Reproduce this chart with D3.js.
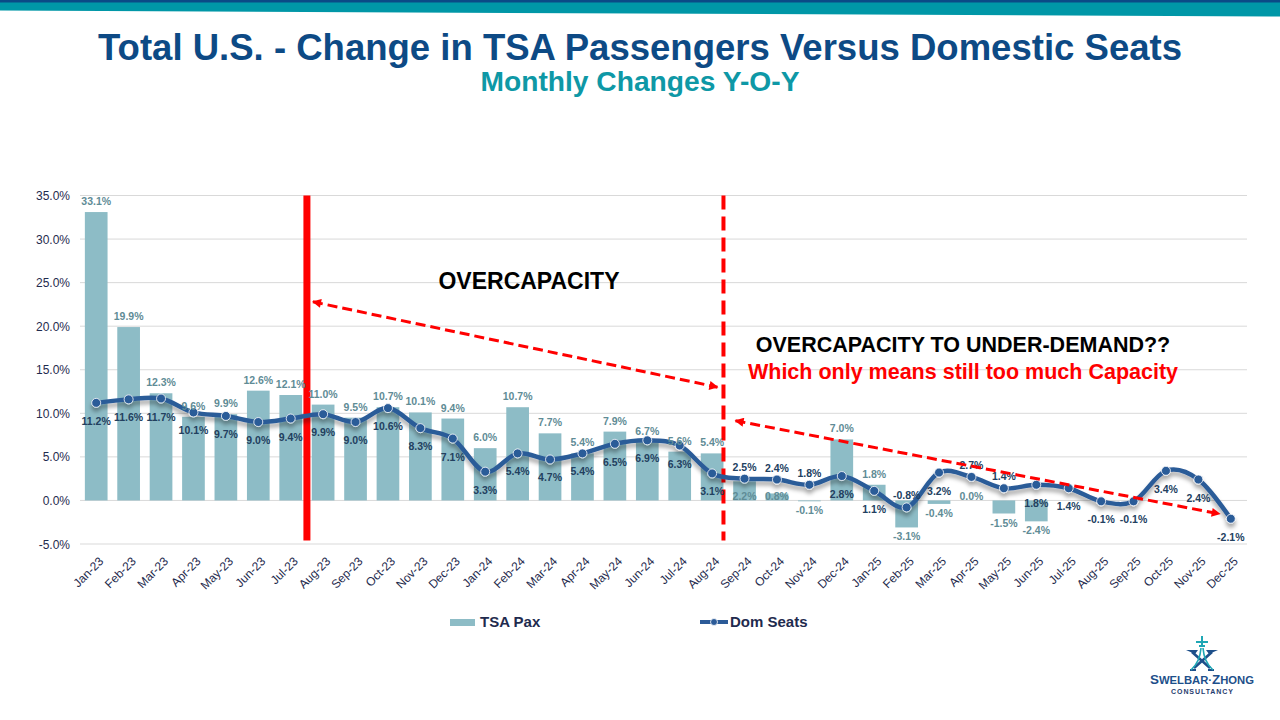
<!DOCTYPE html>
<html>
<head>
<meta charset="utf-8">
<script src="https://cdn.jsdelivr.net/npm/d3@7"></script>
<style>
  body { margin: 0; background: #fff; }
  svg { display: block; font-family: "Liberation Sans", Arial, sans-serif; }
</style>
</head>
<body>
<div id="chart"></div>
<script>
const width = 1280;
const height = 720;

// data
const months = ["Jan-23", "Feb-23", "Mar-23", "Apr-23", "May-23", "Jun-23", "Jul-23", "Aug-23", "Sep-23", "Oct-23", "Nov-23", "Dec-23",
  "Jan-24", "Feb-24", "Mar-24", "Apr-24", "May-24", "Jun-24", "Jul-24", "Aug-24", "Sep-24", "Oct-24", "Nov-24", "Dec-24",
  "Jan-25", "Feb-25", "Mar-25", "Apr-25", "May-25", "Jun-25", "Jul-25", "Aug-25", "Sep-25", "Oct-25", "Nov-25", "Dec-25"];
const tsaPax = [33.1, 19.9, 12.3, 9.6, 9.9, 12.6, 12.1, 11.0, 9.5, 10.7, 10.1, 9.4,
  6.0, 10.7, 7.7, 5.4, 7.9, 6.7, 5.6, 5.4, 2.2, 0.8, -0.1, 7.0,
  1.8, -3.1, -0.4, 0.0, -1.5, -2.4, null, null, null, null, null, null];
const domSeats = [11.2, 11.6, 11.7, 10.1, 9.7, 9.0, 9.4, 9.9, 9.0, 10.6, 8.3, 7.1,
  3.3, 5.4, 4.7, 5.4, 6.5, 6.9, 6.3, 3.1, 2.5, 2.4, 1.8, 2.8,
  1.1, -0.8, 3.2, 2.7, 1.4, 1.8, 1.4, -0.1, -0.1, 3.4, 2.4, -2.1];
const yTicks = [-5, 0, 5, 10, 15, 20, 25, 30, 35];

// label tweaks used in the reference
const seatLabelsAbove = ["Sep-24", "Oct-24", "Nov-24", "Feb-25", "Apr-25", "May-25"];
const paxLabelsLow = ["Sep-24", "Oct-24", "Apr-25"];

const barColor = "#8dbcc6";
const lineColor = "#2c5b98";
const red = "#ff0000";
const navy = "#1f2b4e";

// excel style: plain hyphen for negatives
const pct = v => d3.format(".1f")(v).replace("\u2212", "-") + "%";

const svg = d3.select("#chart")
  .append("svg")
  .attr("width", width)
  .attr("height", height);

const defs = svg.append("defs");
const shadow = defs.append("filter")
  .attr("id", "shadow")
  .attr("x", "-5%").attr("y", "-30%")
  .attr("width", "110%").attr("height", "160%");
shadow.append("feDropShadow")
  .attr("dx", 0).attr("dy", 4)
  .attr("stdDeviation", 2)
  .attr("flood-color", "#000")
  .attr("flood-opacity", 0.35);

defs.append("marker")
  .attr("id", "arrow")
  .attr("viewBox", "0 0 10 10")
  .attr("refX", 9).attr("refY", 5)
  .attr("markerWidth", 3.4).attr("markerHeight", 3)
  .attr("markerUnits", "strokeWidth")
  .attr("orient", "auto-start-reverse")
  .append("path")
  .attr("d", "M0,0 L10,5 L0,10 z")
  .attr("fill", red);

// header band
svg.append("rect").attr("x", 0).attr("y", 0).attr("width", width).attr("height", 3).attr("fill", "#0b4a86");
svg.append("path")
  .attr("d", `M0,2.5 L${width},2.5 L${width},16.5 L0,10.5 Z`)
  .attr("fill", "#0097a7");

svg.append("text")
  .attr("x", width / 2).attr("y", 60)
  .attr("text-anchor", "middle")
  .attr("font-size", 36).attr("font-weight", "bold")
  .attr("fill", "#0d4a85")
  .attr("textLength", 1084).attr("lengthAdjust", "spacingAndGlyphs")
  .text("Total U.S. - Change in TSA Passengers Versus Domestic Seats");

svg.append("text")
  .attr("x", width / 2).attr("y", 91)
  .attr("text-anchor", "middle")
  .attr("font-size", 28).attr("font-weight", "bold")
  .attr("fill", "#0e98a6")
  .attr("textLength", 319).attr("lengthAdjust", "spacingAndGlyphs")
  .text("Monthly Changes Y-O-Y");

// scales
const x = d3.scaleBand()
  .domain(months)
  .range([80, 1247])
  .paddingInner(0.3)
  .paddingOuter(0.15);

const y = d3.scaleLinear()
  .domain([-5, 35])
  .range([544, 195.5]);

const cx = d => x(d) + x.bandwidth() / 2;

// grid + y labels
svg.append("g")
  .selectAll("line")
  .data(yTicks)
  .join("line")
  .attr("x1", 80).attr("x2", 1247)
  .attr("y1", d => y(d)).attr("y2", d => y(d))
  .attr("stroke", "#d9d9d9")
  .attr("stroke-width", 1);

svg.append("g")
  .selectAll("text")
  .data(yTicks)
  .join("text")
  .attr("x", 70)
  .attr("y", d => y(d) + 4.5)
  .attr("text-anchor", "end")
  .attr("font-size", 12)
  .attr("fill", navy)
  .text(d => pct(d));

// x labels
svg.append("g")
  .selectAll("text")
  .data(months)
  .join("text")
  .attr("transform", d => `translate(${cx(d) + 8},${562}) rotate(-45)`)
  .attr("text-anchor", "end")
  .attr("font-size", 12)
  .attr("fill", navy)
  .text(d => d);

// bars
const paxData = months.map((m, i) => ({ month: m, value: tsaPax[i] })).filter(d => d.value !== null);

svg.append("g")
  .selectAll("rect")
  .data(paxData)
  .join("rect")
  .attr("x", d => x(d.month))
  .attr("width", x.bandwidth())
  .attr("y", d => y(Math.max(0, d.value)))
  .attr("height", d => Math.abs(y(d.value) - y(0)))
  .attr("fill", barColor);

// vertical markers
const xSolid = x("Aug-23") - x.step() * 0.15;
const xDashed = x("Sep-24") - x.step() * 0.3;

svg.append("line")
  .attr("x1", xSolid).attr("x2", xSolid)
  .attr("y1", y(35)).attr("y2", y(-4.6))
  .attr("stroke", red).attr("stroke-width", 7);

svg.append("line")
  .attr("x1", xDashed).attr("x2", xDashed)
  .attr("y1", y(35)).attr("y2", y(-4.6))
  .attr("stroke", red).attr("stroke-width", 4)
  .attr("stroke-dasharray", "14,7");

// seats line
const seatData = months.map((m, i) => ({ month: m, value: domSeats[i] }));

const line = d3.line()
  .x(d => cx(d.month))
  .y(d => y(d.value))
  .curve(d3.curveCardinal.tension(0));

const lineG = svg.append("g").attr("filter", "url(#shadow)");
lineG.append("path")
  .datum(seatData)
  .attr("d", line)
  .attr("fill", "none")
  .attr("stroke", lineColor)
  .attr("stroke-width", 4.5);

lineG.selectAll("circle")
  .data(seatData)
  .join("circle")
  .attr("cx", d => cx(d.month))
  .attr("cy", d => y(d.value))
  .attr("r", 4.5)
  .attr("fill", lineColor)
  .attr("stroke", "#fff")
  .attr("stroke-width", 0.8);

// bar labels
svg.append("g")
  .selectAll("text")
  .data(paxData)
  .join("text")
  .attr("x", d => cx(d.month))
  .attr("y", d => {
    if (paxLabelsLow.includes(d.month)) return y(0);
    return d.value >= 0 ? y(d.value) - 7 : y(d.value) + 13;
  })
  .attr("text-anchor", "middle")
  .attr("font-size", 10.5)
  .attr("font-weight", "bold")
  .attr("fill", "#5f8c96")
  .text(d => pct(d.value));

// line labels
svg.append("g")
  .selectAll("text")
  .data(seatData)
  .join("text")
  .attr("x", d => cx(d.month))
  .attr("y", d => seatLabelsAbove.includes(d.month) ? y(d.value) - 8 : y(d.value) + 22)
  .attr("text-anchor", "middle")
  .attr("font-size", 10.5)
  .attr("font-weight", "bold")
  .attr("fill", "#22405f")
  .text(d => pct(d.value));

// annotation arrows (anchored in data units)
svg.append("line")
  .attr("x1", xSolid + 6).attr("y1", y(22.8))
  .attr("x2", xDashed - 6).attr("y2", y(13.0))
  .attr("stroke", red).attr("stroke-width", 3)
  .attr("stroke-dasharray", "10,5")
  .attr("marker-start", "url(#arrow)")
  .attr("marker-end", "url(#arrow)");

svg.append("line")
  .attr("x1", xDashed + 12).attr("y1", y(9.15))
  .attr("x2", cx("Dec-25") - 11).attr("y2", y(-1.55))
  .attr("stroke", red).attr("stroke-width", 3)
  .attr("stroke-dasharray", "10,5")
  .attr("marker-start", "url(#arrow)")
  .attr("marker-end", "url(#arrow)");

svg.append("text")
  .attr("x", 529).attr("y", 289)
  .attr("text-anchor", "middle")
  .attr("font-size", 23).attr("font-weight", "bold")
  .attr("fill", "#000")
  .text("OVERCAPACITY");

svg.append("text")
  .attr("x", 963).attr("y", 352)
  .attr("text-anchor", "middle")
  .attr("font-size", 21.5).attr("font-weight", "bold")
  .attr("fill", "#000")
  .text("OVERCAPACITY TO UNDER-DEMAND??");

svg.append("text")
  .attr("x", 963).attr("y", 379)
  .attr("text-anchor", "middle")
  .attr("font-size", 21.5).attr("font-weight", "bold")
  .attr("fill", red)
  .text("Which only means still too much Capacity");

// legend
const legend = svg.append("g");
legend.append("rect")
  .attr("x", 450).attr("y", 619).attr("width", 25).attr("height", 7)
  .attr("fill", barColor);
legend.append("text")
  .attr("x", 480).attr("y", 627)
  .attr("font-size", 15).attr("font-weight", "bold")
  .attr("fill", navy)
  .text("TSA Pax");
legend.append("line")
  .attr("x1", 700).attr("x2", 728).attr("y1", 622).attr("y2", 622)
  .attr("stroke", lineColor).attr("stroke-width", 4);
legend.append("circle")
  .attr("cx", 714).attr("cy", 622).attr("r", 3.5)
  .attr("fill", lineColor).attr("stroke", "#fff").attr("stroke-width", 0.8);
legend.append("text")
  .attr("x", 730).attr("y", 627)
  .attr("font-size", 15).attr("font-weight", "bold")
  .attr("fill", navy)
  .text("Dom Seats");

// logo
const logo = svg.append("g").attr("transform", "translate(1202,654)");
logo.append("path") // star arms
  .attr("d", "M-16,-4 L-4,-4 L-7,0 Z M16,-4 L4,-4 L7,0 Z")
  .attr("fill", "#1d4f8a");
logo.append("path") // crossing legs
  .attr("d", "M-10,-2 L8,14 M10,-2 L-8,14")
  .attr("stroke", "#1d4f8a").attr("stroke-width", 2.6).attr("fill", "none");
logo.append("path") // base feet
  .attr("d", "M-12,16 L-6,16 M6,16 L12,16")
  .attr("stroke", "#1d4f8a").attr("stroke-width", 2).attr("fill", "none");
logo.append("path") // tower curves
  .attr("d", "M-1,-6 Q-2,8 -11,16 M1,-6 Q2,8 11,16")
  .attr("stroke", "#1fa7b5").attr("stroke-width", 1.6).attr("fill", "none");
logo.append("path") // plane
  .attr("d", "M0,-18 L0,-7 M-6,-12 L6,-12 M-3,-8 L3,-8")
  .attr("stroke", "#1fa7b5").attr("stroke-width", 2).attr("fill", "none");

svg.append("text")
  .attr("x", 1202).attr("y", 684)
  .attr("text-anchor", "middle")
  .attr("font-size", 10.5).attr("font-weight", "bold")
  .attr("fill", "#1d4f8a")
  .attr("textLength", 104).attr("lengthAdjust", "spacingAndGlyphs")
  .html('<tspan font-size="12.5">S</tspan>WELBAR·<tspan font-size="12.5">Z</tspan>HONG');

svg.append("text")
  .attr("x", 1202).attr("y", 694)
  .attr("text-anchor", "middle")
  .attr("font-size", 7).attr("font-weight", "bold")
  .attr("fill", "#1f3c6e")
  .attr("textLength", 62).attr("lengthAdjust", "spacing")
  .text("CONSULTANCY");
</script>
</body>
</html>
